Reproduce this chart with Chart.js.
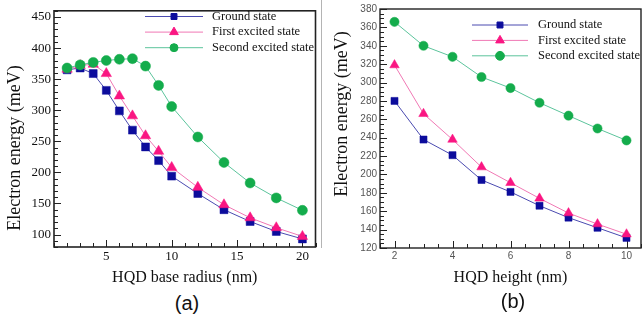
<!DOCTYPE html>
<html>
<head>
<meta charset="utf-8">
<script src="https://cdn.jsdelivr.net/npm/chart.js@4/dist/chart.umd.min.js"></script>
<style>
  html, body { margin: 0; padding: 0; background: #fff; overflow: hidden; }
  body { width: 644px; height: 320px; position: relative; }
  .panel { position: absolute; top: 0; height: 290px; }
  #wrapA { left: 0; width: 322px; }
  #wrapB { left: 322px; width: 325px; }
  .tag { position: absolute; font-family: Arial, "Liberation Sans", sans-serif; font-size: 20px;
         transform: translate(-50%, -50%); color: #111; }
  #sep { position: absolute; left: 321px; top: 0; width: 1px; height: 248px; background: #b4b4b4; }
</style>
</head>
<body>
<div id="sep"></div>
<div class="panel" id="wrapA"><canvas id="chartA"></canvas></div>
<div class="panel" id="wrapB"><canvas id="chartB"></canvas></div>
<div class="tag" style="left:187px; top:303px;">(a)</div>
<div class="tag" style="left:513px; top:301px;">(b)</div>
<script>
// ---- data: panel (a), energy vs base radius
const radiusA = [2, 3, 4, 5, 6, 7, 8, 9, 10, 12, 14, 16, 18, 20];
const groundA = [365, 368, 359, 332, 299, 268, 241, 219, 194, 166, 140, 121, 105, 93];
const firstA  = [366, 372, 374, 359, 323, 291, 259, 234, 208, 176, 148, 127, 111, 97];
const secondA = [368, 373, 377, 380, 382, 383, 371, 340, 306, 257, 216, 183, 159, 139];
const xTicksA = [5, 10, 15, 20];
const yTicksA = [100, 150, 200, 250, 300, 350, 400, 450];

// ---- data: panel (b), energy vs height
const heightB = [2, 3, 4, 5, 6, 7, 8, 9, 10];
const groundB = [280, 238, 221, 194, 181, 166, 153, 142, 131];
const firstB  = [319, 266, 238, 208, 191, 174, 158, 146, 135];
const secondB = [366, 340, 328, 306, 294, 278, 264, 250, 237];
const xTicksB = [2, 4, 6, 8, 10];
const yTicksB = [120, 140, 160, 180, 200, 220, 240, 260, 280, 300, 320, 340, 360, 380];

const seriesNames = ["Ground state", "First excited state", "Second excited state"];

const SERIF = "Liberation Serif, Times New Roman, serif";
const SANS = "Liberation Sans, Arial, sans-serif";
Chart.defaults.font.family = SERIF;

const STYLES = [
  { line: "#4a4ab0", fill: "#0c0c9c", point: "rect", order: 2 },
  { line: "#f078b4", fill: "#fa1682", point: "triangle", order: 1 },
  { line: "#5cc49c", fill: "#14ac4c", point: "circle", order: 0 },
];

// draws the point glyph (same shapes Chart.js uses)
function drawMarker(ctx, style, r, x, y) {
  if (Chart.helpers && Chart.helpers.drawPoint) {
    Chart.helpers.drawPoint(ctx, { pointStyle: style, radius: r, rotation: 0, borderWidth: 0.5 }, x, y);
    return;
  }
  ctx.beginPath();
  ctx.arc(x, y, r, 0, Math.PI * 2);
  ctx.fill();
}

// inward major/minor ticks + frame
const frameTicks = {
  id: "frameTicks",
  beforeDatasetsDraw(chart, args, o) {
    const { ctx, chartArea: a, scales } = chart;
    const xs = scales.x, ys = scales.y;
    ctx.save();
    ctx.strokeStyle = o.color;
    ctx.lineWidth = 1;
    for (let i = Math.ceil(xs.min / o.xMinor); i * o.xMinor <= xs.max + 1e-9; i++) {
      const v = i * o.xMinor;
      const major = Math.abs(v / o.xMajor - Math.round(v / o.xMajor)) < 1e-6;
      const px = Math.round(xs.getPixelForValue(v)) + 0.5;
      ctx.beginPath();
      ctx.moveTo(px, a.bottom);
      ctx.lineTo(px, a.bottom - (major ? o.majorLen : o.minorLen));
      ctx.stroke();
    }
    for (let i = Math.ceil(ys.min / o.yMinor); i * o.yMinor <= ys.max + 1e-9; i++) {
      const v = i * o.yMinor;
      const major = Math.abs(v / o.yMajor - Math.round(v / o.yMajor)) < 1e-6;
      const py = Math.round(ys.getPixelForValue(v)) + 0.5;
      ctx.beginPath();
      ctx.moveTo(a.left, py);
      ctx.lineTo(a.left + (major ? o.majorLen : o.minorLen), py);
      ctx.stroke();
    }
    ctx.lineWidth = o.frameWidth;
    ctx.strokeRect(a.left, a.top, a.width, a.height);
    ctx.restore();
  },
};

// legend drawn inside the plot: line sample with marker in the middle
const lineLegend = {
  id: "lineLegend",
  afterDatasetsDraw(chart, args, o) {
    const ctx = chart.ctx;
    ctx.save();
    ctx.font = o.font;
    ctx.textBaseline = "middle";
    chart.data.datasets.forEach((ds, i) => {
      const y = o.y + i * o.rowH;
      ctx.strokeStyle = ds.borderColor;
      ctx.lineWidth = 1;
      ctx.beginPath();
      ctx.moveTo(o.x, y);
      ctx.lineTo(o.x + o.lineLen, y);
      ctx.stroke();
      ctx.fillStyle = ds.pointBackgroundColor;
      ctx.strokeStyle = ds.pointBackgroundColor;
      drawMarker(ctx, ds.pointStyle, o.radius[i], o.x + o.lineLen / 2, y);
      ctx.fillStyle = "#111";
      ctx.fillText(ds.label, o.x + o.lineLen + o.gap, y);
    });
    ctx.restore();
  },
};

// rotated y title at a fixed spot
const sideTitle = {
  id: "sideTitle",
  afterDraw(chart, args, o) {
    const ctx = chart.ctx;
    ctx.save();
    ctx.translate(o.x, o.y);
    ctx.rotate(-Math.PI / 2);
    ctx.font = o.font;
    ctx.fillStyle = "#111";
    ctx.textAlign = "center";
    ctx.textBaseline = "middle";
    ctx.fillText(o.text, 0, 0);
    ctx.restore();
  },
};

function buildSet(i, xs, ys, radius) {
  const s = STYLES[i];
  return {
    label: seriesNames[i],
    data: xs.map((x, k) => ({ x: x, y: ys[k] })),
    showLine: true,
    tension: 0,
    borderColor: s.line,
    borderWidth: 1,
    pointStyle: s.point,
    pointRadius: radius[i],
    pointHoverRadius: radius[i],
    pointBackgroundColor: s.fill,
    pointBorderColor: s.fill,
    pointBorderWidth: 0.5,
    order: s.order,
  };
}

function makePanel(id, p) {
  return new Chart(document.getElementById(id), {
    type: "scatter",
    data: { datasets: p.series.map((ys, i) => buildSet(i, p.xs, ys, p.radius)) },
    options: {
      responsive: true,
      maintainAspectRatio: false,
      animation: false,
      events: [],
      layout: { padding: p.padding },
      scales: {
        x: {
          type: "linear",
          min: p.xMin,
          max: p.xMax,
          grid: { display: false, drawTicks: false },
          border: { display: false },
          afterBuildTicks(s) { s.ticks = p.xTicks.map(v => ({ value: v })); },
          ticks: {
            maxRotation: 0, padding: 2, autoSkip: false,
            font: { family: p.tickFamily, size: p.tickSize }, color: p.tickColor,
          },
          title: {
            display: true, text: p.xTitle, color: "#111",
            font: { family: SERIF, size: 16 }, padding: { top: 0, bottom: 3 },
          },
          afterFit(s) { s.height = p.xAxisH; },
        },
        y: {
          min: p.yMin,
          max: p.yMax,
          grid: { display: false, drawTicks: false },
          border: { display: false },
          afterBuildTicks(s) { s.ticks = p.yTicks.map(v => ({ value: v })); },
          ticks: {
            padding: 3, autoSkip: false,
            font: { family: p.tickFamily, size: p.tickSize }, color: p.tickColor,
          },
          afterFit(s) { s.width = p.yAxisW; },
        },
      },
      plugins: {
        legend: { display: false },
        tooltip: { enabled: false },
        frameTicks: p.ticks,
        lineLegend: p.legend,
        sideTitle: p.yTitle,
      },
    },
    plugins: [frameTicks, lineLegend, sideTitle],
  });
}

makePanel("chartA", {
  xs: radiusA,
  series: [groundA, firstA, secondA],
  radius: [5.6, 6, 5],
  padding: { top: 5, right: 2, left: 0, bottom: 0 },
  xMin: 1, xMax: 21, xTicks: xTicksA,
  yMin: 80, yMax: 460, yTicks: yTicksA,
  xAxisH: 43, yAxisW: 54,
  tickFamily: SERIF, tickSize: 13,
  tickColor: "#111",
  xTitle: "HQD base radius (nm)",
  ticks: { color: "#222", xMinor: 1, xMajor: 5, yMinor: 10, yMajor: 50, majorLen: 7, minorLen: 4, frameWidth: 1.6 },
  legend: { x: 145, y: 16.5, rowH: 15.6, lineLen: 58, gap: 9, radius: [4.2, 5, 4], font: "12.5px " + SERIF },
  yTitle: { text: "Electron energy (meV)", x: 15, y: 148, font: "18px " + SERIF },
});

makePanel("chartB", {
  xs: heightB,
  series: [groundB, firstB, secondB],
  radius: [5, 5.5, 4.6],
  padding: { top: 6, right: 2, left: 0, bottom: 0 },
  xMin: 1.5, xMax: 10.5, xTicks: xTicksB,
  yMin: 120, yMax: 380, yTicks: yTicksB,
  xAxisH: 42, yAxisW: 58,
  tickFamily: SANS, tickSize: 10,
  tickColor: "#555",
  xTitle: "HQD height (nm)",
  ticks: { color: "#222", xMinor: 0.5, xMajor: 2, yMinor: 5, yMajor: 20, majorLen: 7, minorLen: 4, frameWidth: 1.4 },
  legend: { x: 150, y: 25, rowH: 15.4, lineLen: 56, gap: 10, radius: [4.2, 5, 4.4], font: "12.5px " + SERIF },
  yTitle: { text: "Electron energy (meV)", x: 20, y: 114, font: "18px " + SERIF },
});
</script>
</body>
</html>
